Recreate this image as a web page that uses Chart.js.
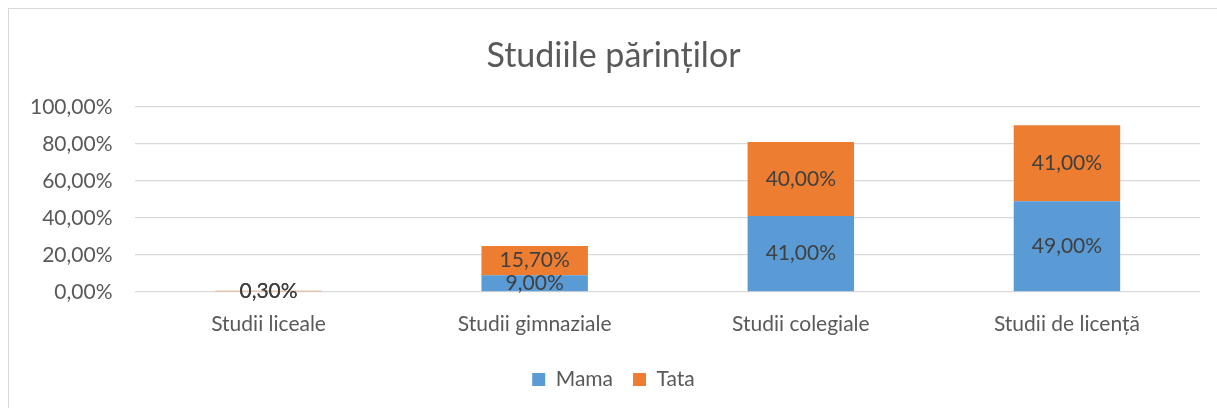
<!DOCTYPE html>
<html>
<head>
<meta charset="utf-8">
<script src="https://cdn.jsdelivr.net/npm/chart.js@4"></script>
<style>
  html, body { margin: 0; padding: 0; background: #fff; overflow: hidden; }
  #wrap { position: relative; width: 1217px; height: 408px; }
  #frame { position: absolute; left: 8px; top: 8px; width: 1240px; height: 440px; border: 1px solid #d9d9d9; box-sizing: border-box; }
  #chart { position: absolute; left: 26px; top: 0; }
</style>
</head>
<body>
<div id="wrap">
  <div id="frame"></div>
  <canvas id="chart" width="1182" height="408"></canvas>
</div>
<script>
// categorii și procente (fracții din 1)
const categorii = ['Studii liceale', 'Studii gimnaziale', 'Studii colegiale', 'Studii de licență'];
const mama = [0.003, 0.09, 0.41, 0.49];
const tata = [0.003, 0.157, 0.40, 0.41];
const axaY = [0, 0.2, 0.4, 0.6, 0.8, 1.0];

const FONT = 'Lato, "Open Sans", sans-serif';
const fmt = v => (v * 100).toFixed(2).replace('.', ',') + '%';

// etichete de valoare în mijlocul fiecărui segment
const eticheteBare = {
  id: 'eticheteBare',
  afterDatasetsDraw(chart) {
    const ctx = chart.ctx;
    ctx.save();
    ctx.font = '21px ' + FONT;
    ctx.fillStyle = '#404040';
    ctx.textAlign = 'center';
    ctx.textBaseline = 'middle';
    chart.data.datasets.forEach((ds, i) => {
      chart.getDatasetMeta(i).data.forEach((bar, j) => {
        const y = (bar.y + bar.base) / 2;
        ctx.fillText(fmt(ds.data[j]), bar.x, y);
      });
    });
    ctx.restore();
  }
};

new Chart(document.getElementById('chart'), {
  type: 'bar',
  data: {
    labels: categorii,
    datasets: [
      { label: 'Mama', data: mama, backgroundColor: '#5b9bd5', borderWidth: 0 },
      { label: 'Tata', data: tata, backgroundColor: '#ed7d31', borderWidth: 0 }
    ]
  },
  options: {
    responsive: false,
    animation: false,
    layout: { padding: { left: 1, right: 8, top: 36, bottom: 8 } },
    datasets: { bar: { categoryPercentage: 1, barPercentage: 0.4 } },
    plugins: {
      title: {
        display: true,
        text: 'Studiile părinților',
        color: '#595959',
        font: { family: FONT, size: 34, weight: 'normal' },
        padding: { top: 0, bottom: 30 }
      },
      legend: {
        position: 'bottom',
        labels: {
          color: '#595959',
          font: { family: FONT, size: 21 },
          boxWidth: 13, boxHeight: 13, padding: 20
        }
      },
      tooltip: { enabled: false }
    },
    scales: {
      x: {
        stacked: true,
        grid: { display: false },
        border: { display: false },
        ticks: { color: '#595959', font: { family: FONT, size: 21 }, padding: 12 }
      },
      y: {
        stacked: true,
        min: 0, max: 1,
        afterBuildTicks: ax => { ax.ticks = axaY.map(v => ({ value: v })); },
        // axa ia mai mult loc decât etichetele; o strângem
        afterFit: ax => { ax.width -= 20; },
        grid: { color: '#d9d9d9', lineWidth: 1.3, drawTicks: false },
        border: { display: false },
        ticks: { color: '#595959', font: { family: FONT, size: 21 }, padding: 23, callback: v => fmt(v) }
      }
    }
  },
  plugins: [eticheteBare]
});
</script>
</body>
</html>
